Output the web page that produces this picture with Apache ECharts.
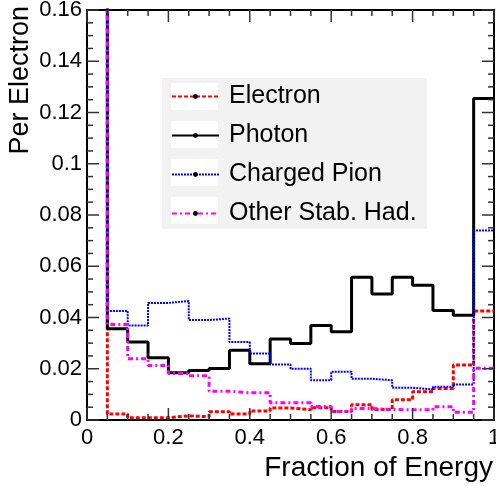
<!DOCTYPE html>
<html>
<head>
<meta charset="utf-8">
<script src="https://cdn.jsdelivr.net/npm/echarts@6/dist/echarts.min.js"></script>
<style>
html,body{margin:0;padding:0;background:#fff;}
#c{width:496px;height:486px;}
</style>
</head>
<body>
<div id="c"></div>
<script>
// Bin lower edges (fraction of energy), 20 bins of width 0.05
const binLow = [0, 0.05, 0.10, 0.15, 0.20, 0.25, 0.30, 0.35, 0.40, 0.45,
                0.50, 0.55, 0.60, 0.65, 0.70, 0.75, 0.80, 0.85, 0.90, 0.95];
const binHigh = 1.0;
// Per-bin contents (first bin is off scale in the picture)
const electron = [0.60, 0.0023, 0.0009, 0.0009, 0.0016, 0.0013, 0.0032, 0.0023, 0.0035, 0.0047,
                  0.0040, 0.0048, 0.0033, 0.0060, 0.0041, 0.0079, 0.0110, 0.0123, 0.0215, 0.0425];
const photon   = [0.45, 0.0356, 0.0304, 0.0243, 0.0184, 0.0193, 0.0201, 0.0272, 0.0220, 0.0316,
                  0.0299, 0.0369, 0.0344, 0.0557, 0.0492, 0.0557, 0.0526, 0.0427, 0.0409, 0.1255];
const chpion   = [0.40, 0.0425, 0.0369, 0.0457, 0.0464, 0.0390, 0.0396, 0.0304, 0.0260, 0.0217,
                  0.0200, 0.0155, 0.0188, 0.0161, 0.0155, 0.0126, 0.0119, 0.0130, 0.0139, 0.0740];
const otherHad = [0.50, 0.0373, 0.0239, 0.0213, 0.0181, 0.0173, 0.0112, 0.0106, 0.0106, 0.0067,
                  0.0067, 0.0053, 0.0033, 0.0045, 0.0041, 0.0040, 0.0040, 0.0052, 0.0030, 0.0202];
const seriesNames = ['Electron', 'Photon', 'Charged Pion', 'Other Stab. Had.'];
// Axis ticks
const xMajorTicks = [0, 0.2, 0.4, 0.6, 0.8, 1];
const xMinorTicks = [0.05, 0.1, 0.15, 0.25, 0.3, 0.35, 0.45, 0.5, 0.55, 0.65, 0.7, 0.75, 0.85, 0.9, 0.95];
const yMajorTicks = [0, 0.02, 0.04, 0.06, 0.08, 0.1, 0.12, 0.14, 0.16];
const yMinorTicks = [0.005, 0.01, 0.015, 0.025, 0.03, 0.035, 0.045, 0.05, 0.055, 0.065, 0.07, 0.075,
                     0.085, 0.09, 0.095, 0.105, 0.11, 0.115, 0.125, 0.13, 0.135, 0.145, 0.15, 0.155];

(function () {
const X_MIN = xMajorTicks[0], X_MAX = xMajorTicks[xMajorTicks.length - 1];
const Y_MIN = yMajorTicks[0], Y_MAX = yMajorTicks[yMajorTicks.length - 1];

function histData(vals) {
  const d = [];
  for (let i = 0; i < vals.length; i++) d.push([binLow[i], vals[i]]);
  d.push([binHigh, vals[vals.length - 1]]);
  return d;
}

const FONT = 'Liberation Sans';
const chart = echarts.init(document.getElementById('c'), null, {renderer: 'canvas'});

function axisBase(showLabel, extra) {
  return Object.assign({
    axisLine: {show: true, onZero: false, lineStyle: {color: '#000', width: 2}},
    axisTick: {show: false},
    minorTick: {show: false},
    splitLine: {show: false},
    axisLabel: {show: showLabel, color: '#000', fontFamily: FONT, fontSize: 22}
  }, extra || {});
}

const styles = [
  {color: '#ff0000', width: 3, type: [4, 2]},
  {color: '#000000', width: 3, type: 'solid'},
  {color: '#0000ff', width: 2, type: [2, 1]},
  {color: '#ff00ff', width: 3, type: [5, 3, 2, 3]}
];
const datas = [electron, photon, chpion, otherHad];

const series = datas.map((v, i) => ({
  name: seriesNames[i],
  type: 'line',
  step: 'end',
  data: histData(v),
  showSymbol: false,
  symbol: 'circle',
  symbolSize: 6,
  itemStyle: {color: '#000'},
  lineStyle: styles[i],
  clip: true,
  animation: false,
  z: 2 + i
}));

const legendTop = 83;
const rowStep = 38;
const graphics = [
  {type: 'rect', shape: {x: 162, y: 78, width: 265, height: 151}, style: {fill: '#f2f2f2'}, z: 1}
];
for (let i = 0; i < 4; i++) {
  graphics.push({type: 'rect', shape: {x: 171, y: legendTop + i * rowStep, width: 47, height: 27},
                 style: {fill: '#ffffff'}, z: 1});
}
graphics.push({
  type: 'text', x: 21, y: 6, rotation: Math.PI / 2, z: 10,
  style: {text: 'Per Electron', fill: '#000', font: '27px "Liberation Sans"',
          textAlign: 'right', textVerticalAlign: 'middle'}
});
graphics.push({
  type: 'text', x: 493, y: 468, z: 10,
  style: {text: 'Fraction of Energy', fill: '#000', font: '28px "Liberation Sans"',
          textAlign: 'right', textVerticalAlign: 'middle'}
});

const option = {
  animation: false,
  grid: {left: 87, right: 2, top: 10, bottom: 66, containLabel: false, outerBoundsMode: 'none'},
  xAxis: [
    Object.assign({type: 'value', position: 'bottom', min: X_MIN, max: X_MAX, interval: 0.2},
      axisBase(true, {axisLabel: {show: true, color: '#000', fontFamily: FONT, fontSize: 22, margin: 7,
        alignMinLabel: 'center', alignMaxLabel: 'center',
        formatter: v => String(+v.toFixed(2))}})),
    Object.assign({type: 'value', position: 'top', min: X_MIN, max: X_MAX, interval: 0.2}, axisBase(false))
  ],
  yAxis: [
    Object.assign({type: 'value', position: 'left', min: Y_MIN, max: Y_MAX, interval: 0.02},
      axisBase(true, {axisLabel: {show: true, color: '#000', fontFamily: FONT, fontSize: 22, margin: 5,
        formatter: v => String(+v.toFixed(3))}})),
    Object.assign({type: 'value', position: 'right', min: Y_MIN, max: Y_MAX, interval: 0.02}, axisBase(false))
  ],
  legend: {
    show: true, orient: 'vertical', left: 171, top: legendTop, padding: 0,
    itemWidth: 47, itemHeight: 6, itemGap: 12,
    data: seriesNames,
    textStyle: {color: '#000', fontFamily: FONT, fontSize: 25, lineHeight: 27, padding: [0, 0, 0, 5]},
    selectedMode: false, z: 5
  },
  graphic: graphics,
  series: series
};
chart.setOption(option);

// Frame ticks, placed through the axes' own scales
const TW = 1.5;
const tickGraphics = [];
const xPx = v => chart.convertToPixel({xAxisIndex: 0}, v);
const yPx = v => chart.convertToPixel({yAxisIndex: 0}, v);
const pxLeft = xPx(X_MIN), pxRight = xPx(X_MAX), pxBottom = yPx(Y_MIN), pxTop = yPx(Y_MAX);
function addX(v, len) {
  const p = xPx(v);
  tickGraphics.push({type: 'rect', z: 10, silent: true, shape: {x: p - TW / 2, y: pxBottom - len, width: TW, height: len}, style: {fill: '#333'}});
  tickGraphics.push({type: 'rect', z: 10, silent: true, shape: {x: p - TW / 2, y: pxTop, width: TW, height: len}, style: {fill: '#333'}});
}
function addY(v, len) {
  const p = yPx(v);
  tickGraphics.push({type: 'rect', z: 10, silent: true, shape: {x: pxLeft, y: p - TW / 2, width: len, height: TW}, style: {fill: '#333'}});
  tickGraphics.push({type: 'rect', z: 10, silent: true, shape: {x: pxRight - len, y: p - TW / 2, width: len, height: TW}, style: {fill: '#333'}});
}
if (isFinite(pxLeft) && isFinite(pxBottom)) {
  xMajorTicks.forEach(v => addX(v, 12));
  xMinorTicks.forEach(v => addX(v, 6));
  yMajorTicks.forEach(v => addY(v, 12));
  yMinorTicks.forEach(v => addY(v, 6));
  chart.setOption({graphic: graphics.concat(tickGraphics)});
}
})();
</script>
</body>
</html>
